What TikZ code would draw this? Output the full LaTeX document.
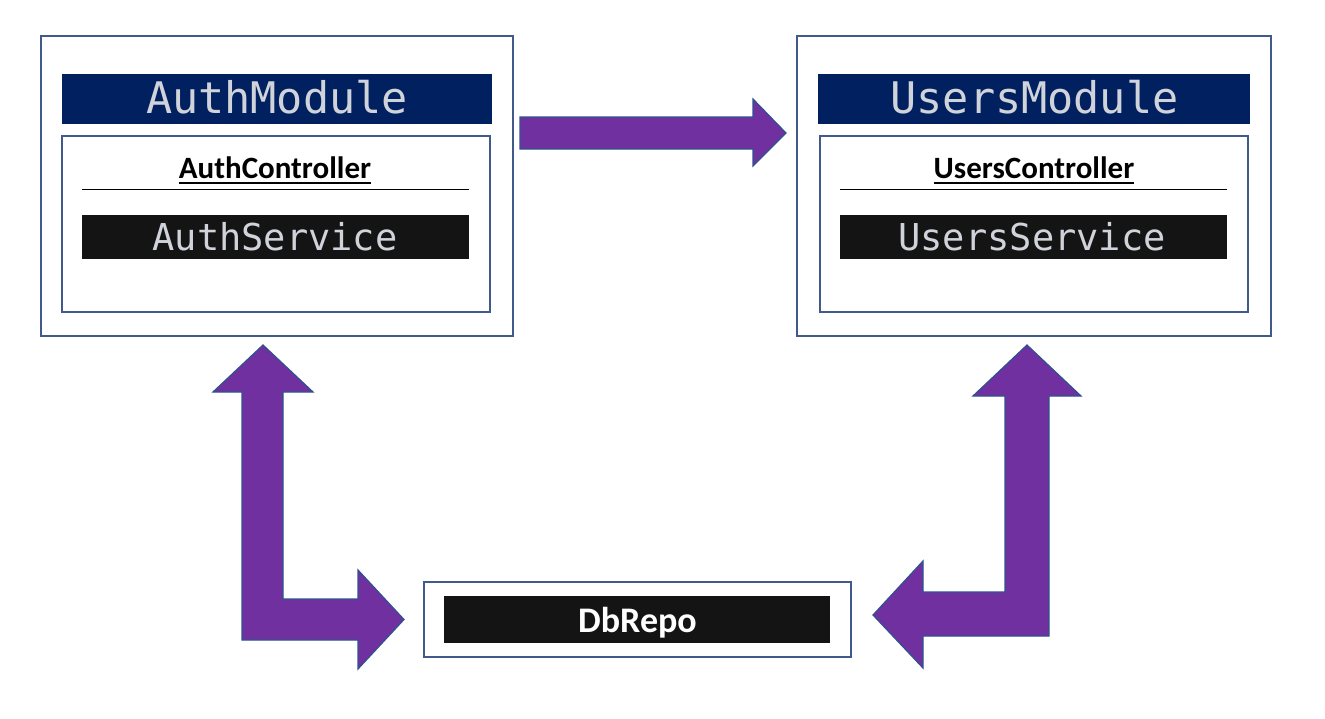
\documentclass[tikz,border=0pt]{standalone}
\usepackage{fontspec}
\newfontfamily\codefont{DejaVu Sans Mono}
\newfontfamily\calfont{Carlito}
\definecolor{frameblue}{HTML}{41598B}
\definecolor{navy}{HTML}{002060}
\definecolor{codegrey}{HTML}{D0D3DA}
\definecolor{darkbox}{HTML}{141414}
\definecolor{arrowpurple}{HTML}{7030A0}
\definecolor{arrowedge}{HTML}{2F528F}
\begin{document}
\begin{tikzpicture}[x=1pt,y=-1pt,
  frame/.style={draw=frameblue,line width=2.4pt,fill=white,inner sep=0pt},
  header/.style={fill=navy,inner sep=0pt},
  darkbar/.style={fill=darkbox,inner sep=0pt},
  headtext/.style={anchor=base,inner sep=0pt,text=codegrey,font=\codefont\fontsize{43.5}{45}\selectfont},
  servtext/.style={anchor=base,inner sep=0pt,text=codegrey,font=\codefont\fontsize{37}{39}\selectfont},
  ctrltext/.style={anchor=base,inner sep=0pt,text=black,font=\calfont\bfseries\fontsize{31}{33}\selectfont},
  dbtext/.style={anchor=base,inner sep=0pt,text=white,font=\calfont\bfseries\fontsize{36}{38}\selectfont},
  blockarrow/.style={fill=arrowpurple,draw=arrowedge,line width=1.2pt,line join=miter}
]
\useasboundingbox[fill=white] (0,0) rectangle (1325,718);

% ---------- Auth module ----------
\node[frame,minimum width=472pt,minimum height=300pt] (authouter) at (277,186) {};
\node[header,minimum width=430pt,minimum height=50pt] (authhead) at (277,99) {};
\node[headtext] (authheadtxt) at (277,113) {AuthModule};
\node[frame,minimum width=428pt,minimum height=176pt] (authinner) at (276,224) {};
\node[ctrltext] (authctrl) at (275,178) {AuthController};
\draw[line width=1.5pt] ([yshift=-5pt]authctrl.base west) -- ([yshift=-5pt]authctrl.base east);
\coordinate (authsepL) at (82,189);
\coordinate (authsepR) at (469,189);
\draw[line width=1pt] (authsepL) -- (authsepR);
\node[darkbar,minimum width=387pt,minimum height=44pt] (authserv) at (275.5,237) {};
\node[servtext] (authservtxt) at (275,250) {AuthService};

% ---------- Users module ----------
\node[frame,minimum width=474pt,minimum height=300pt] (usersouter) at (1034,186) {};
\node[header,minimum width=432pt,minimum height=50pt] (usershead) at (1034,99) {};
\node[headtext] (usersheadtxt) at (1034.5,113) {UsersModule};
\node[frame,minimum width=428pt,minimum height=176pt] (usersinner) at (1034,224) {};
\node[ctrltext] (usersctrl) at (1034,178) {UsersController};
\draw[line width=1.5pt] ([yshift=-5pt]usersctrl.base west) -- ([yshift=-5pt]usersctrl.base east);
\coordinate (userssepL) at (840,189);
\coordinate (userssepR) at (1227,189);
\draw[line width=1pt] (userssepL) -- (userssepR);
\node[darkbar,minimum width=387pt,minimum height=44pt] (usersserv) at (1033.5,237) {};
\node[servtext] (usersservtxt) at (1032,250) {UsersService};

% ---------- DbRepo ----------
\node[frame,minimum width=427pt,minimum height=75pt] (dbouter) at (637.5,619.5) {};
\node[darkbar,minimum width=386pt,minimum height=47pt] (dbbar) at (637,619.5) {};
\node[dbtext] (dbtxt) at (637.5,632) {DbRepo};

% ---------- Block arrows ----------
% Auth -> Users
\draw[blockarrow] (520,117) -- (753,117) -- (753,99) -- (786,133) -- (753,166) -- (753,149) -- (520,149) -- cycle;
% Auth <-> DbRepo
\draw[blockarrow] (263,345) -- (313,392) -- (283,392) -- (283,599) -- (358,599) -- (358,570)
  -- (404,619.5) -- (358,669) -- (358,640) -- (242,640) -- (242,392) -- (213,392) -- cycle;
% Users <-> DbRepo
\draw[blockarrow] (1027,345) -- (1081,396) -- (1049,396) -- (1049,636) -- (923,636) -- (923,668)
  -- (873,615) -- (923,561) -- (923,592) -- (1005,592) -- (1005,396) -- (973,396) -- cycle;
\end{tikzpicture}
\end{document}
